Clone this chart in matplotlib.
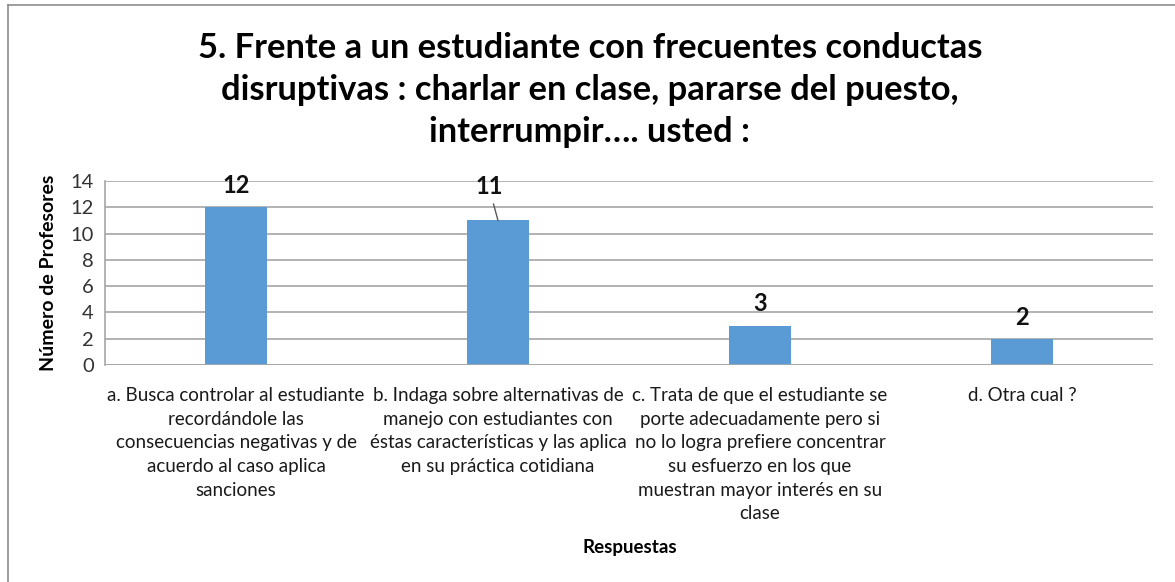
import numpy as np
import matplotlib
matplotlib.use("Agg")
import matplotlib.pyplot as plt
from matplotlib.lines import Line2D

# Chart data
categories = [
    "a. Busca controlar al estudiante\nrecordándole las\nconsecuencias negativas y de\nacuerdo al caso aplica\nsanciones",
    "b. Indaga sobre alternativas de\nmanejo con estudiantes con\néstas características y las aplica\nen su práctica cotidiana",
    "c. Trata de que el estudiante se\nporte adecuadamente pero si\nno lo logra prefiere concentrar\nsu esfuerzo en los que\nmuestran mayor interés en su\nclase",
    "d. Otra cual ?",
]
values = [12, 11, 3, 2]
y_ticks = [0, 2, 4, 6, 8, 10, 12, 14]
title = ("5. Frente a un estudiante con frecuentes conductas\n"
         "disruptivas : charlar en clase, pararse del puesto,\n"
         "interrumpir…. usted :")

plt.rcParams['font.family'] = ['Lato', 'DejaVu Sans']

W, H = 1175, 582
fig = plt.figure(figsize=(W / 100, H / 100), dpi=100)
ax = fig.add_axes([105 / W, 1 - 365 / H, (1153 - 105) / W, (365 - 181) / H])

x = np.arange(len(values))
bars = ax.bar(x, values, width=0.235, color="#5B9BD5", zorder=3)

ax.set_xlim(-0.5, len(values) - 0.5)
ax.set_ylim(0, 14)
ax.set_yticks(y_ticks)
ax.tick_params(axis='y', labelsize=14.5, length=0, pad=8, colors="#333333")
ax.tick_params(axis='x', length=0, pad=16)
ax.set_xticks(x)
ax.set_xticklabels(categories, fontsize=13.5, linespacing=1.47, color="#1a1a1a")
ax.grid(axis='y', color="#A6A6A6", linewidth=1.2, zorder=0)
for side in ['top', 'right', 'bottom']:
    ax.spines[side].set_visible(False)
ax.spines['left'].set_color("#A6A6A6")
ax.spines['left'].set_linewidth(1.2)
ax.axhline(0, color="#A6A6A6", linewidth=1.2, zorder=4)

# value labels
for i, v in enumerate(values):
    if i == 1:
        ax.annotate(str(v), xy=(x[i], v), xytext=(x[i] - 0.035, v + 2.55),
                    ha='center', va='center', fontsize=17, fontweight='bold',
                    color="#111111",
                    arrowprops=dict(arrowstyle='-', color="#595959", lw=1,
                                    shrinkA=2, shrinkB=0))
    else:
        ax.text(x[i], v + 1.65, str(v), ha='center', va='center',
                fontsize=17, fontweight='bold', color="#111111")

ax.set_ylabel("Número de Profesores", fontsize=14, fontweight='bold', labelpad=10)
fig.text(630 / W, 1 - 547 / H, "Respuestas", ha='center', va='center',
         fontsize=13.5, fontweight='bold')
fig.text(590 / W, 1 - 90 / H, title, ha='center', va='center',
         fontsize=24.8, fontweight='bold', linespacing=1.38)

# chart border (left and top visible)
fig.add_artist(Line2D([8 / W, 8 / W], [0, 1 - 5 / H], color="#8C8C8C", lw=1.2))
fig.add_artist(Line2D([8 / W, 1], [1 - 5 / H, 1 - 5 / H], color="#8C8C8C", lw=1.2))

fig.savefig("out.png", dpi=100)
